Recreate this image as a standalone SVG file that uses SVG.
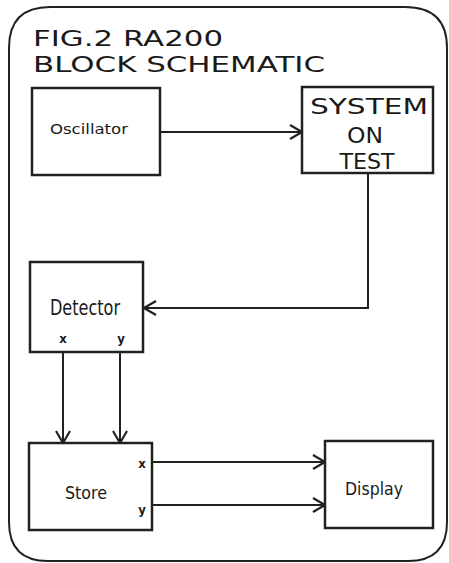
<svg xmlns="http://www.w3.org/2000/svg" width="449" height="563" viewBox="0 0 449 563">
<style>
.frame{fill:none;stroke:#1e231e;stroke-width:2}
.box{fill:#fff;stroke:#1e231e;stroke-width:2.5}
.ln{fill:none;stroke:#1e231e;stroke-width:2}
.title{font-family:"DejaVu Sans ExtraLight","DejaVu Sans",sans-serif;font-size:22px;fill:#1a1a1a}
.big{font-family:"DejaVu Sans ExtraLight","DejaVu Sans",sans-serif;font-size:22px;fill:#1a1a1a;text-anchor:middle}
.lbl{font-family:"DejaVu Sans Condensed","Liberation Sans",sans-serif;fill:#1a1a1a}
.sm{font-family:"DejaVu Sans Condensed","Liberation Sans",sans-serif;font-size:13px;font-weight:bold;fill:#1a1a1a;text-anchor:middle}
</style>
<defs>
<marker id="ah" viewBox="0 0 14 16" refX="13" refY="8" markerWidth="14" markerHeight="16" markerUnits="userSpaceOnUse" orient="auto">
<path d="M1,1 L13,8 L1,15" fill="none" stroke="#1e231e" stroke-width="2.2"/>
</marker>
</defs>
<rect width="449" height="563" fill="#fff"/>
<path class="frame" d="M9,48 Q9,7 50,7 L405,7 Q447,7 447,48 L447,522 Q447,561 408,561 L48,561 Q9,561 9,522 Z"/>
<g id="title">
<text class="title" x="33" y="46" textLength="190" lengthAdjust="spacingAndGlyphs">FIG.2 RA200</text>
<text class="title" x="33" y="72" textLength="292" lengthAdjust="spacingAndGlyphs">BLOCK SCHEMATIC</text>
</g>
<g id="connectors">
<line class="ln" x1="160" y1="132" x2="302" y2="132" marker-end="url(#ah)"/>
<polyline class="ln" points="368,173 368,308 144,308" marker-end="url(#ah)"/>
<line class="ln" x1="63" y1="352" x2="63" y2="443" marker-end="url(#ah)"/>
<line class="ln" x1="120" y1="352" x2="120" y2="443" marker-end="url(#ah)"/>
<line class="ln" x1="152" y1="462" x2="325" y2="462" marker-end="url(#ah)"/>
<line class="ln" x1="152" y1="505" x2="325" y2="505" marker-end="url(#ah)"/>
</g>
<g id="oscillator">
<rect class="box" x="32" y="88" width="128" height="87"/>
<text class="lbl" x="50" y="134" font-size="14" textLength="78" lengthAdjust="spacingAndGlyphs">Oscillator</text>
</g>
<g id="system">
<rect class="box" x="302" y="87" width="131" height="86"/>
<text class="big" x="369" y="114" textLength="118" lengthAdjust="spacingAndGlyphs">SYSTEM</text>
<text class="big" x="365" y="143" textLength="36" lengthAdjust="spacingAndGlyphs">ON</text>
<text class="big" x="367" y="169" textLength="55" lengthAdjust="spacingAndGlyphs">TEST</text>
</g>
<g id="detector">
<rect class="box" x="30" y="262" width="113" height="90"/>
<text class="lbl" x="50" y="315" font-size="21" textLength="70" lengthAdjust="spacingAndGlyphs">Detector</text>
<text class="sm" x="63" y="343">x</text>
<text class="sm" x="121" y="343">y</text>
</g>
<g id="store">
<rect class="box" x="29" y="443" width="123" height="87"/>
<text class="lbl" x="65" y="499" font-size="18" textLength="42" lengthAdjust="spacingAndGlyphs">Store</text>
<text class="sm" x="142" y="468">x</text>
<text class="sm" x="142" y="514">y</text>
</g>
<g id="display">
<rect class="box" x="325" y="441" width="108" height="87"/>
<text class="lbl" x="345" y="495" font-size="17" textLength="58" lengthAdjust="spacingAndGlyphs">Display</text>
</g>
</svg>
